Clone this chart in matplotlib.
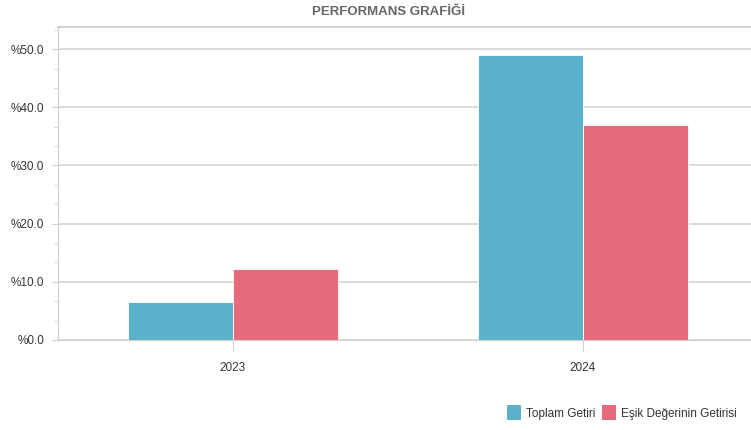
import numpy as np
import matplotlib.pyplot as plt
from matplotlib.ticker import MultipleLocator, FuncFormatter
from matplotlib.patches import Patch

years = ['2023', '2024']
toplam_getiri = [6.5, 49.0]
esik_getiri = [12.2, 36.9]
series_names = ['Toplam Getiri', 'Eşik Değerinin Getirisi']
colors = ['#5db2cb', '#e66a7b']

plt.rcParams['font.family'] = ['Liberation Sans', 'DejaVu Sans']

fig = plt.figure(figsize=(7.51, 4.30), dpi=100)
ax = fig.add_axes([58 / 751, 1 - 340 / 430, 1 - 58 / 751, 313 / 430])

x = np.arange(len(years))
w = 0.3
ax.bar(x - w / 2, toplam_getiri, w, color=colors[0], edgecolor='white', linewidth=0.6, zorder=3)
ax.bar(x + w / 2, esik_getiri, w, color=colors[1], edgecolor='white', linewidth=0.6, zorder=3)

ax.set_xlim(-0.5, 1.48)
ax.set_ylim(0, 53.8)
ax.set_xticks(x)
ax.set_xticklabels(years)
ax.yaxis.set_major_locator(MultipleLocator(10))
ax.yaxis.set_minor_locator(MultipleLocator(10 / 3))
ax.yaxis.set_major_formatter(FuncFormatter(lambda v, p: '%{:.1f}'.format(v)))

ax.grid(axis='y', color='#d9d9d9', linewidth=1.4, zorder=0)
for s in ['left', 'bottom', 'top']:
    ax.spines[s].set_color('#d0d0d0')
ax.spines['top'].set_linewidth(1.4)
ax.spines['right'].set_visible(False)
ax.tick_params(axis='y', which='major', length=4, color='#d0d0d0', labelsize=8.5, labelcolor='#333333', pad=6)
ax.tick_params(axis='y', which='minor', length=3, color='#d0d0d0')
ax.tick_params(axis='x', length=8, color='#d0d0d0', labelsize=8.5, labelcolor='#333333', pad=8)

fig.text(0.517, 0.972, 'PERFORMANS GRAFİĞİ', ha='center', va='center',
         fontsize=9.5, fontweight='bold', color='#666666')

handles = [Patch(facecolor=c, edgecolor='none') for c in colors]
fig.legend(handles, series_names, loc='center right', bbox_to_anchor=(0.995, 0.04),
           ncol=2, frameon=False, fontsize=8.5, handlelength=1.2, handleheight=1.6,
           handletextpad=0.4, columnspacing=0.6, labelcolor='#333333')

fig.savefig('out.png', dpi=100)
